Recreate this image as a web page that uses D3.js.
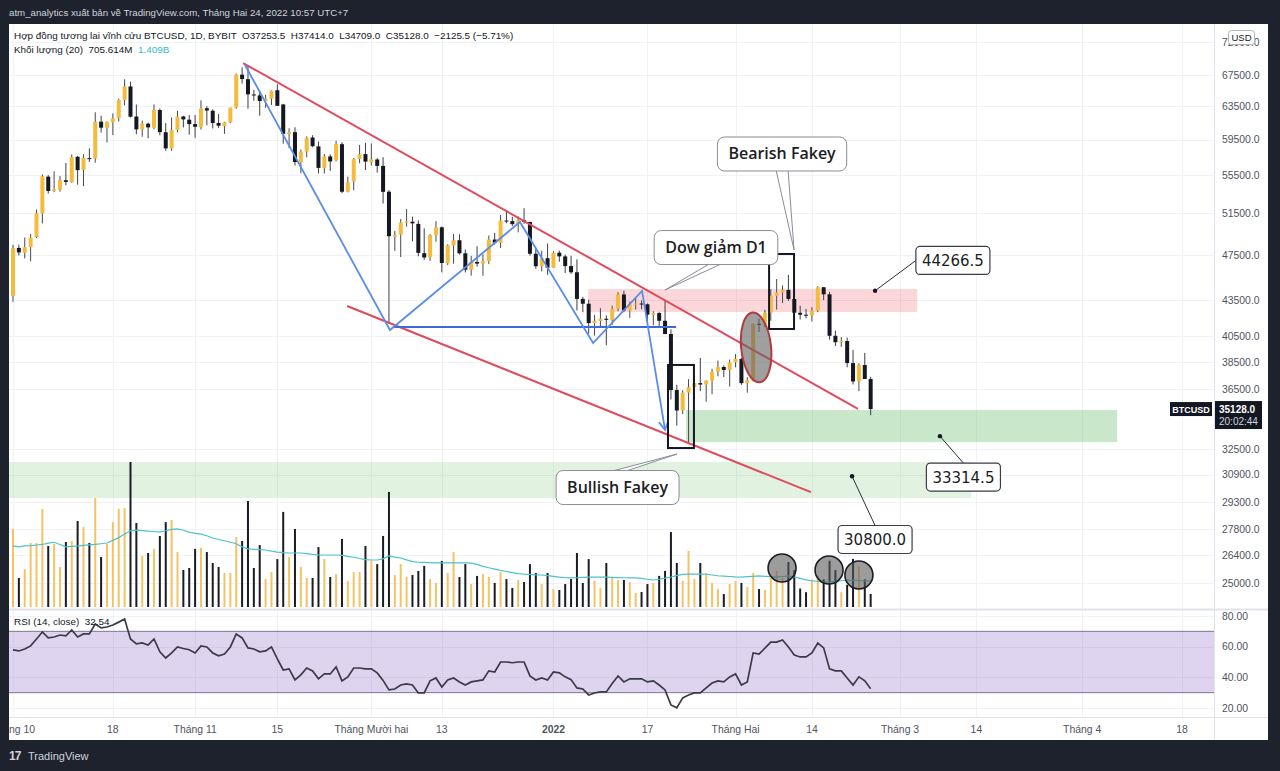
<!DOCTYPE html>
<html><head><meta charset="utf-8">
<script src="https://cdn.jsdelivr.net/npm/d3@7"></script>
<style>body{margin:0;background:#1e222d;overflow:hidden} svg{display:block}</style>
</head><body><svg id="c" width="1280" height="771"></svg>
<script>
// ---------------- DATA ----------------
const startDate = "2021-10-01";
const opens = [43816,48137,47680,48208,49175,51487,55338,53802,53930,54953,54734,57526,56039,57373,57345,61609,60887,61548,62043,64284,66002,62237,60694,61368,60893,63032,60353,58470,60625,62239,61850,
61320,60964,63254,62942,61461,61068,61554,63344,67549,66953,64978,64864,64159,64455,65521,63721,60139,60361,56896,58115,59730,58706,56305,57565,57138,58960,53736,54813,57291,57830,
56907,57217,56509,53728,49201,49413,50581,50667,50451,47642,47264,49354,50114,46709,48379,48864,47632,46131,46834,46681,46915,48928,48629,50784,50722,50430,50810,50640,47588,46444,47178,
46306,47686,47345,46458,45897,43569,43160,41558,41733,41912,41821,42735,43949,42591,43099,43177,43113,42250,42375,41744,40680,36457,35030,36276,36654,36954,36852,37138,37784,38138,37917,
38483,38743,36952,37154,41500,41441,42412,43841,44118,44339,43565,42407,42244,42197,42586,44575,43961,40538,40030,40122,38431,37075,38286,37253.5];
const highs = [48436,48436,49130,49456,51887,55568,55500,55922,55397,56828,57793,57627,57804,58478,62758,62335,61645,62614,64434,66930,66600,63715,61744,61505,63729,63229,61436,62128,62927,62330,62406,
62419,64242,63516,63123,62541,61590,63326,67673,68530,68789,65579,65460,64915,65495,66282,63800,60823,60948,58351,59859,60004,59266,57827,57803,59367,59183,55329,57393,58872,59113,
59041,57374,57482,53904,49768,50929,51934,51171,50798,50015,49458,50724,50205,48479,49473,49437,47995,47392,48300,47537,49328,49576,51332,51820,51156,51196,52016,50679,48119,47879,48548,
47827,47881,47510,47406,47070,43748,43500,42228,42786,42199,43001,44135,44278,43346,43724,43436,43179,42534,42478,43413,41060,36836,36434,37247,37545,38825,37148,38006,38623,38266,38698,
39116,38834,37387,41527,41914,42656,44401,45293,44732,45661,43916,42992,42723,42876,44667,44588,44164,40945,40440,40400,39431,38420,39204,37414];
const lows = [43321,47438,47157,46895,49072,50489,53525,53688,53735,54415,54670,54477,54314,56957,56868,60310,59165,60012,61622,63610,62117,60122,59826,59643,60691,59991,58208,58206,60329,60918,60075,
59695,60673,61184,60800,60844,60163,61432,63200,66382,63208,64180,62333,63303,63647,63548,59016,58515,56550,55705,57469,58618,55679,55679,55964,56999,53569,53668,53879,56793,56057,
56553,55777,52496,41500,47857,47281,50175,48765,47358,47023,46942,48725,45894,46547,46671,47512,45884,45598,46406,45579,46631,48450,48125,50514,50236,49623,50459,47414,46201,45975,45678,
46288,46856,45835,45752,42600,42450,40700,40550,41268,39796,41407,42528,42447,41982,42669,42691,41680,41392,41242,40672,35791,34008,34785,32800,35779,36375,35629,36156,37450,37406,36702,
38113,36832,36269,37092,40844,41223,41748,42669,43211,43402,42031,41852,41950,41681,42450,43463,40234,39741,39671,38113,36860,36381,37281,34709];
const closes = [48116,47711,48200,49113,51515,55361,53805,53967,54968,54772,57485,56041,57401,57321,61593,60892,61553,62026,64262,65992,62210,60692,61393,60930,63039,60364,58482,60622,62228,61888,61318,
61004,63226,62970,61452,61125,61527,63327,67566,66971,64995,64949,64155,64469,65466,63557,60161,60368,56942,58119,59697,58730,56289,57570,57005,58961,53726,54721,57275,57806,56987,
57229,56509,53714,49253,49369,50582,50700,50504,47672,47243,49362,50098,46737,48379,48864,47632,46131,46834,46681,46915,48928,48629,50784,50722,50430,50810,50640,47588,46444,47178,46306,
47686,47345,46458,45897,43569,43160,41558,41733,41912,41821,42735,43949,42591,43099,43177,43113,42250,42375,41744,40680,36457,35030,36276,36654,36954,36852,37138,37784,38138,37917,38483,
38743,36952,37154,41500,41441,42412,43841,44118,44339,43565,42407,42244,42197,42586,44575,43961,40538,40030,40122,38431,37075,38286,37253.5,35128];
// volume, billions USD
const volumes = [4.22,1.57,2.05,3.46,3.46,5.30,3.30,3.41,2.16,3.51,3.57,4.65,4.32,3.46,5.89,2.70,3.41,4.59,5.30,5.35,7.84,4.54,2.76,2.92,3.14,3.84,4.59,4.70,2.97,2.00,2.11,
3.14,3.19,2.97,2.38,2.16,1.84,1.84,3.78,3.57,5.73,2.11,3.35,1.51,1.89,2.59,5.14,2.70,4.22,2.16,1.57,1.57,3.24,2.59,1.62,1.78,3.68,1.41,1.89,1.89,3.30,
2.49,2.32,3.84,6.22,1.73,2.32,1.62,1.73,1.95,2.22,1.51,1.30,2.49,1.84,2.97,1.62,2.32,1.24,1.68,1.78,1.62,1.30,1.89,1.51,1.03,1.46,1.35,2.32,1.84,1.24,1.84,
0.97,0.92,1.24,1.51,2.92,1.30,2.59,1.41,1.03,2.38,1.57,1.46,1.46,1.35,0.76,0.81,1.24,1.30,1.68,1.95,4.05,2.38,1.41,3.03,1.51,2.38,1.84,1.30,0.97,0.70,1.24,
1.41,1.30,1.08,1.84,0.97,0.92,1.57,1.95,1.57,2.43,2.0,1.0,0.8,1.5,1.7,1.5,2.5,2.0,0.8,1.2,2.6,2.2,1.5,0.706];
const volumeMA = [3.30,3.25,3.30,3.32,3.35,3.38,3.45,3.50,3.38,3.25,3.28,3.30,3.33,3.36,3.38,3.42,3.46,3.60,3.75,3.95,4.12,4.15,4.13,4.10,4.08,4.05,4.12,4.20,4.22,4.15,4.05,
3.98,3.94,3.85,3.73,3.65,3.58,3.50,3.42,3.25,3.14,3.12,3.10,3.08,3.02,2.97,2.94,2.92,2.92,2.92,2.88,2.84,2.81,2.81,2.81,2.81,2.79,2.74,2.69,2.62,2.56,
2.54,2.54,2.60,2.76,2.70,2.65,2.55,2.45,2.42,2.41,2.40,2.39,2.38,2.38,2.38,2.38,2.38,2.37,2.30,2.20,2.12,2.05,1.98,1.92,1.86,1.80,1.77,1.76,1.74,1.73,1.70,
1.66,1.62,1.59,1.57,1.58,1.60,1.62,1.62,1.62,1.61,1.60,1.59,1.58,1.57,1.57,1.55,1.50,1.46,1.50,1.56,1.62,1.70,1.76,1.78,1.78,1.78,1.77,1.73,1.69,1.67,1.65,
1.63,1.62,1.64,1.66,1.68,1.66,1.64,1.62,1.65,1.68,1.62,1.55,1.47,1.42,1.38,1.36,1.35,1.38,1.42,1.46,1.44,1.42,1.41,1.409];
const rsiValues = [57.9,57.2,58.5,60.5,65.0,69.6,65.7,66.3,67.6,67.0,70.9,66.3,68.3,68.3,74.8,72.2,72.8,74.1,76.0,78.0,
65.0,61.8,62.4,61.1,65.0,56.6,52.6,55.9,59.8,58.8,58.0,55.9,60.5,59.8,55.9,54.0,55.2,59.8,68.3,65.7,
59.2,58.5,56.6,57.2,59.8,52.0,44.8,45.5,38.3,41.6,46.1,44.2,39.0,42.2,42.2,46.8,37.7,40.3,46.1,46.1,
45.5,45.5,42.9,38.0,31.8,32.4,35.0,35.7,35.0,29.8,29.8,37.7,39.6,33.7,38.3,39.6,37.0,35.0,37.0,37.7,
38.3,44.2,43.5,50.0,50.0,49.5,50.0,50.0,40.9,38.3,39.6,38.3,43.5,42.9,40.3,38.5,33.1,32.4,28.5,29.8,
30.5,30.5,36.0,40.9,37.0,39.0,39.0,39.0,37.0,37.7,35.0,31.8,22.0,20.1,26.6,28.5,29.8,29.8,33.1,36.3,
37.7,37.0,40.3,42.2,35.0,37.0,55.9,55.2,59.0,63.0,63.0,64.4,59.8,54.6,53.3,53.3,55.9,62.4,59.2,45.5,
44.2,44.2,39.6,35.0,40.3,37.7,32.54];

const priceTicks = [72000,67500,63500,59500,55500,51500,47500,43500,40500,38500,36500,32500,30900,29300,27800,26400,25000];
const rsiTicks = [80,60,40,20];
const timeTickDates = ["2021-10-01","2021-10-18","2021-11-01","2021-11-15","2021-12-01","2021-12-13","2022-01-01","2022-01-17","2022-02-01","2022-02-14","2022-03-01","2022-03-14","2022-04-01","2022-04-18"];
const timeTickLabels = ["Tháng 10","18","Tháng 11","15","Tháng Mười hai","13","2022","17","Tháng Hai","14","Tháng 3","14","Tháng 4","18"];

// drawings anchored in [time, price]
const channelLines = [
  [["2021-11-09T04:00",69100],["2022-02-21T20:00",35140]],
  [["2021-11-26T21:00",42970],["2022-02-13T20:00",29860]]
];
const zigzag = [["2021-11-09T12:00",68830],["2021-12-04T04:00",41000],["2021-12-26T07:00",50640],["2022-01-07T18:00",39970],["2022-01-16T02:00",44250],["2022-01-20T00:00",33720]];
const neckline = [["2021-12-04T20:00",41240],["2022-01-21T21:00",41240]];
const zones = [
  {t0:"2022-01-06T22:00",t1:"2022-03-03T22:00",p0:42460,p1:44420,fill:"rgba(242,54,69,0.2)"},
  {t0:"2022-01-23T14:00",t1:"2022-04-06T23:00",p0:32930,p1:35060,fill:"rgba(76,175,80,0.3)"},
  {t0:"2021-09-20T00:00",t1:"2022-03-13T02:00",p0:29520,p1:31670,fill:"rgba(76,175,80,0.17)"}
];
const fakeyBoxes = [
  {t0:"2022-01-20T12:00",t1:"2022-01-24T22:00",p0:32550,p1:38290},
  {t0:"2022-02-06T17:00",t1:"2022-02-10T23:00",p0:41080,p1:47570}
];
const ellipseAnchor = {t0:"2022-02-01T23:00",t1:"2022-02-07T01:00",p0:37000,p1:42440};
const volumeCircles = [["2022-02-08T22:00",2.11],["2022-02-16T22:00",2.0],["2022-02-22T00:00",1.73]];
const textCallouts = [
  {text:"Bearish Fakey", box:["2022-02-08T22:00",57840], tip:["2022-02-10T23:00",47940]},
  {text:"Dow giảm D1", box:["2022-01-28T16:00",48170], tip:["2022-01-19T23:30",44330]},
  {text:"Bullish Fakey", box:["2022-01-11T22:00",30130], tip:["2022-01-22T01:00",32170]}
];
const priceCallouts = [
  {value:44266.5, box:["2022-03-10T00:00",46970], tip:["2022-02-24T18:00",44266.5]},
  {value:33314.5, box:["2022-03-11T19:00",30750], tip:["2022-03-07T19:00",33314.5]},
  {value:30800.0, box:["2022-02-24T18:00",27220], tip:["2022-02-20T20:00",30800.0]}
];

// ---------------- LAYOUT ----------------
const L=9, R=1268, T=24, B=740, AX=1214, SEP=609, TAX=717;
const UP="#f4bb3d", DN="#151821", WICK="#3d3f48";
const parseD = d3.utcParse("%Y-%m-%d");
const parseDT = d3.utcParse("%Y-%m-%dT%H:%M");
const t0 = parseD(startDate);
const dates = opens.map((_, i) => d3.utcDay.offset(t0, i));

const x = d3.scaleUtc().domain([parseD("2021-10-01"), parseD("2022-04-18")]).range([13, 1182]);
const yP = d3.scaleLog().domain([25000, 67500]).range([583, 75]);
const yV = d3.scaleLinear().domain([0, 8]).range([607, 459]);
const yR = d3.scaleLinear().domain([20, 80]).range([708, 616]);
const px = p => [x(parseDT(p[0])), yP(p[1])];

const svg = d3.select("#c");
const defs = svg.append("defs");
defs.append("clipPath").attr("id","mainClip").append("rect").attr("x",L).attr("y",T).attr("width",AX-L).attr("height",SEP-T);
defs.append("clipPath").attr("id","rsiClip").append("rect").attr("x",L).attr("y",SEP).attr("width",AX-L).attr("height",TAX-SEP);
defs.append("clipPath").attr("id","timeClip").append("rect").attr("x",L).attr("y",TAX).attr("width",AX-L).attr("height",B-TAX);
defs.append("clipPath").attr("id","topTickClip").append("rect").attr("x",AX).attr("y",T).attr("width",R-AX).attr("height",SEP-T);

svg.append("rect").attr("width",1280).attr("height",771).attr("fill","#1e222d");
svg.append("rect").attr("x",L).attr("y",T).attr("width",R-L).attr("height",B-T).attr("fill","#ffffff");

const FONT = "'Liberation Sans', Arial, sans-serif";
// grid
const gGrid = svg.append("g").attr("clip-path","url(#mainClip)");
gGrid.selectAll("line.h").data(priceTicks).join("line")
  .attr("x1",L).attr("x2",AX).attr("y1",d=>Math.round(yP(d))+0.5).attr("y2",d=>Math.round(yP(d))+0.5)
  .attr("stroke","#f0f2f6");
const tickX = timeTickDates.map(d=>x(parseD(d)));
gGrid.selectAll("line.v").data(tickX).join("line")
  .attr("x1",d=>Math.round(d)+0.5).attr("x2",d=>Math.round(d)+0.5).attr("y1",T).attr("y2",SEP).attr("stroke","#f0f2f6");
const gRgrid = svg.append("g").attr("clip-path","url(#rsiClip)");
gRgrid.selectAll("line.v").data(tickX).join("line")
  .attr("x1",d=>Math.round(d)+0.5).attr("x2",d=>Math.round(d)+0.5).attr("y1",SEP).attr("y2",TAX).attr("stroke","#f0f2f6");
gRgrid.selectAll("line.h").data(rsiTicks).join("line")
  .attr("x1",L).attr("x2",AX).attr("y1",d=>Math.round(yR(d))+0.5).attr("y2",d=>Math.round(yR(d))+0.5).attr("stroke","#f0f2f6");

const gMain = svg.append("g").attr("clip-path","url(#mainClip)");
// zones
gMain.selectAll("rect.zone").data(zones).join("rect")
  .attr("x",d=>x(parseDT(d.t0))).attr("width",d=>x(parseDT(d.t1))-x(parseDT(d.t0)))
  .attr("y",d=>yP(d.p1)).attr("height",d=>yP(d.p0)-yP(d.p1)).attr("fill",d=>d.fill);

// volume
gMain.selectAll("rect.vol").data(volumes).join("rect")
  .attr("x",(d,i)=>x(dates[i])-1).attr("width",2)
  .attr("y",d=>yV(d)).attr("height",d=>yV(0)-yV(d))
  .attr("fill",(d,i)=>closes[i]>=opens[i]?"#f3c366":"#1b1d24");
gMain.append("path").datum(volumeMA)
  .attr("d",d3.line().x((d,i)=>x(dates[i])).y(d=>yV(d)))
  .attr("fill","none").attr("stroke","#4fc0cc").attr("stroke-width",1.2);

// candles
const gC = gMain.append("g");
gC.selectAll("line.wick").data(opens).join("line")
  .attr("x1",(d,i)=>x(dates[i])).attr("x2",(d,i)=>x(dates[i]))
  .attr("y1",(d,i)=>yP(highs[i])).attr("y2",(d,i)=>yP(lows[i]))
  .attr("stroke",(d,i)=>closes[i]>=opens[i]?"#4a4a4a":WICK).attr("stroke-width",1);
gC.selectAll("rect.body").data(opens).join("rect")
  .attr("x",(d,i)=>x(dates[i])-2).attr("width",4)
  .attr("y",(d,i)=>yP(Math.max(opens[i],closes[i])))
  .attr("height",(d,i)=>Math.max(1,Math.abs(yP(opens[i])-yP(closes[i]))))
  .attr("fill",(d,i)=>closes[i]>=opens[i]?UP:DN);

// channel lines
channelLines.forEach(seg=>{
  const a=px(seg[0]), b=px(seg[1]);
  gMain.append("line").attr("x1",a[0]).attr("y1",a[1]).attr("x2",b[0]).attr("y2",b[1])
    .attr("stroke","#e14a5c").attr("stroke-width",2);
});
// neckline
{ const a=px(neckline[0]), b=px(neckline[1]);
  gMain.append("line").attr("x1",a[0]).attr("y1",a[1]).attr("x2",b[0]).attr("y2",b[1])
    .attr("stroke","#3a6bd6").attr("stroke-width",2); }
// zigzag
const zz = zigzag.map(px);
gMain.append("path").attr("d",d3.line()(zz)).attr("fill","none").attr("stroke","#5b8ce8").attr("stroke-width",1.8);
{ const a=zz[zz.length-2], b=zz[zz.length-1];
  const ang=Math.atan2(b[1]-a[1],b[0]-a[0]); const len=10, spread=0.5;
  const p1=[b[0]-len*Math.cos(ang-spread), b[1]-len*Math.sin(ang-spread)];
  const p2=[b[0]-len*Math.cos(ang+spread), b[1]-len*Math.sin(ang+spread)];
  gMain.append("path").attr("d",d3.line()([p1,b,p2])).attr("fill","none").attr("stroke","#5b8ce8").attr("stroke-width",1.8); }

// fakey boxes
gMain.selectAll("rect.fk").data(fakeyBoxes).join("rect")
  .attr("x",d=>x(parseDT(d.t0))).attr("width",d=>x(parseDT(d.t1))-x(parseDT(d.t0)))
  .attr("y",d=>yP(d.p1)).attr("height",d=>yP(d.p0)-yP(d.p1))
  .attr("fill","none").attr("stroke","#131722").attr("stroke-width",2);

// ellipse
{ const x0=x(parseDT(ellipseAnchor.t0)), x1=x(parseDT(ellipseAnchor.t1));
  const y0=yP(ellipseAnchor.p1), y1=yP(ellipseAnchor.p0);
  const cx=(x0+x1)/2, cy=(y0+y1)/2;
  gMain.append("ellipse").attr("cx",cx).attr("cy",cy).attr("rx",(x1-x0)/2).attr("ry",(y1-y0)/2)
    .attr("transform",`rotate(-6 ${cx} ${cy})`)
    .attr("fill","rgba(100,100,100,0.62)").attr("stroke","#b23b3b").attr("stroke-width",2); }

// volume circles
gMain.selectAll("circle.vc").data(volumeCircles).join("circle")
  .attr("cx",d=>x(parseDT(d[0]))).attr("cy",d=>yV(d[1])).attr("r",14)
  .attr("fill","rgba(90,90,90,0.6)").attr("stroke","#1b1d24").attr("stroke-width",1.6);

// text callouts
textCallouts.forEach(c=>{
  const [tx,ty]=px(c.tip), [cx,cy]=px(c.box);
  const g=gMain.append("g");
  const t=g.append("text").attr("x",cx).attr("y",cy+5.5).attr("text-anchor","middle")
    .attr("font-family","'Open Sans', sans-serif").attr("font-weight",600).attr("font-size",16).attr("fill","#1b1d24").text(c.text);
  const w=t.node().getComputedTextLength()+22, h=34;
  const bx=cx-w/2, by=cy-h/2;
  let base;
  if(ty>by+h) base=[[cx-6,by+h-1],[cx+6,by+h-1]];
  else if(ty<by) base=[[cx-7,by+1],[cx+7,by+1]];
  else base= tx<bx?[[bx+1,cy-6],[bx+1,cy+6]]:[[bx+w-1,cy-6],[bx+w-1,cy+6]];
  g.insert("path","text").attr("d",d3.line()([base[0],[tx,ty],base[1]])+"Z")
    .attr("fill","#ffffff").attr("stroke","#8a8d96").attr("stroke-width",1);
  g.insert("rect","text").attr("x",bx).attr("y",by).attr("width",w).attr("height",h).attr("rx",7)
    .attr("fill","#ffffff").attr("stroke","#8a8d96").attr("stroke-width",1);
});
// price callouts
priceCallouts.forEach(c=>{
  const [tx,ty]=px(c.tip), [cx,cy]=px(c.box);
  const g=gMain.append("g");
  const t=g.append("text").attr("x",cx).attr("y",cy+5.5).attr("text-anchor","middle")
    .attr("font-family","'DejaVu Sans', sans-serif").attr("font-size",15).attr("fill","#1b1d24").text(d3.format(".1f")(c.value));
  const w=t.node().getComputedTextLength()+12, h=28;
  const bx=cx-w/2, by=cy-h/2;
  let end;
  if(tx<bx) end=[bx,cy]; else if(ty>by+h) end=[cx,by+h]; else end=[cx,by];
  g.insert("line","text").attr("x1",tx).attr("y1",ty).attr("x2",end[0]).attr("y2",end[1]).attr("stroke","#2a2e39").attr("stroke-width",1);
  g.insert("circle","text").attr("cx",tx).attr("cy",ty).attr("r",2.2).attr("fill","#131722");
  g.insert("rect","text").attr("x",bx).attr("y",by).attr("width",w).attr("height",h).attr("rx",4)
    .attr("fill","#ffffff").attr("stroke","#3a3d47").attr("stroke-width",1.2);
});

// legend
svg.append("text").attr("x",14).attr("y",39).attr("font-family",FONT).attr("font-size",9.9).attr("fill","#131722")
  .attr("xml:space","preserve").text("Hợp đồng tương lai vĩnh cửu BTCUSD, 1D, BYBIT  O37253.5  H37414.0  L34709.0  C35128.0  −2125.5 (−5.71%)");
const leg2 = svg.append("text").attr("x",14).attr("y",53).attr("font-family",FONT).attr("font-size",9.9).attr("fill","#131722").attr("xml:space","preserve");
leg2.append("tspan").text("Khối lượng (20)  705.614M  ");
leg2.append("tspan").attr("fill","#35b8c9").text("1.409B");

// RSI pane
const gR = svg.append("g").attr("clip-path","url(#rsiClip)");
gR.append("rect").attr("x",L).attr("width",AX-L).attr("y",yR(70)).attr("height",yR(30)-yR(70)).attr("fill","rgba(126,87,194,0.26)");
[70,30].forEach(v=>gR.append("line").attr("x1",L).attr("x2",AX).attr("y1",yR(v)).attr("y2",yR(v)).attr("stroke","#7b7590").attr("stroke-width",1));
gR.append("path").datum(rsiValues).attr("d",d3.line().x((d,i)=>x(dates[i])).y(d=>yR(d)))
  .attr("fill","none").attr("stroke","#3a3a48").attr("stroke-width",1.7);
svg.append("text").attr("x",14).attr("y",625).attr("font-family",FONT).attr("font-size",9.9).attr("fill","#131722")
  .attr("xml:space","preserve").text("RSI (14, close)  32.54");

// separators & axes
svg.append("line").attr("x1",L).attr("x2",R).attr("y1",SEP+0.5).attr("y2",SEP+0.5).attr("stroke","#e0e3eb").attr("stroke-width",2);
svg.append("line").attr("x1",L).attr("x2",R).attr("y1",TAX+0.5).attr("y2",TAX+0.5).attr("stroke","#e0e3eb");
svg.append("line").attr("x1",AX+0.5).attr("x2",AX+0.5).attr("y1",T).attr("y2",B).attr("stroke","#e0e3eb");

const gAx = svg.append("g").attr("font-family",FONT).attr("font-size",10.4).attr("fill","#50535e");
// top tick (72000) lies partly under the USD badge, as in the source
gAx.selectAll("text.p").data(priceTicks).join("text").attr("x",1222).attr("y",d=>yP(d)+3.8)
  .text(d=>d3.format(".1f")(d));
gAx.selectAll("text.r").data(rsiTicks).join("text").attr("x",1222).attr("y",d=>yR(d)+3.8).text(d=>d3.format(".2f")(d));
const gT = svg.append("g").attr("clip-path","url(#timeClip)").attr("font-family",FONT).attr("font-size",10.4).attr("fill","#50535e");
gT.selectAll("text").data(timeTickLabels).join("text").attr("x",(d,i)=>tickX[i]).attr("y",733).attr("text-anchor","middle")
  .attr("font-weight",d=>d==="2022"?700:400).text(d=>d);

// USD badge
svg.append("rect").attr("x",1228.5).attr("y",30.5).attr("width",26).attr("height",14).attr("rx",3).attr("fill","#fff").attr("stroke","#b2b5be");
svg.append("text").attr("x",1241.5).attr("y",41).attr("text-anchor","middle").attr("font-family",FONT).attr("font-size",9.5).attr("fill","#131722").text("USD");

// last price
const lp = closes[closes.length-1];
const lpy = yP(lp);
svg.append("rect").attr("x",1215).attr("y",lpy-8).attr("width",47).attr("height",28).attr("fill","#131722");
svg.append("text").attr("x",1219).attr("y",lpy+3.5).attr("font-family",FONT).attr("font-size",10).attr("font-weight",700).attr("fill","#fff").text(d3.format(".1f")(lp));
svg.append("text").attr("x",1219).attr("y",lpy+16).attr("font-family",FONT).attr("font-size",10).attr("fill","#d1d4dc").text("20:02:44");
svg.append("rect").attr("x",1170).attr("y",lpy-7).attr("width",42).attr("height",14).attr("fill","#131722");
svg.append("text").attr("x",1191).attr("y",lpy+3.5).attr("text-anchor","middle").attr("font-family",FONT).attr("font-size",9).attr("font-weight",700).attr("fill","#fff").text("BTCUSD");

// header & footer
svg.append("text").attr("x",9).attr("y",16).attr("font-family",FONT).attr("font-size",9.7).attr("fill","#d1d4dc")
  .text("atm_analytics xuất bản về TradingView.com, Tháng Hai 24, 2022 10:57 UTC+7");
svg.append("text").attr("x",9).attr("y",760).attr("font-family",FONT).attr("font-size",12).attr("font-weight",900).attr("fill","#d1d4dc").attr("letter-spacing",-1).text("17");
svg.append("text").attr("x",28).attr("y",760).attr("font-family",FONT).attr("font-size",11).attr("fill","#d1d4dc").text("TradingView");
</script></body></html>
